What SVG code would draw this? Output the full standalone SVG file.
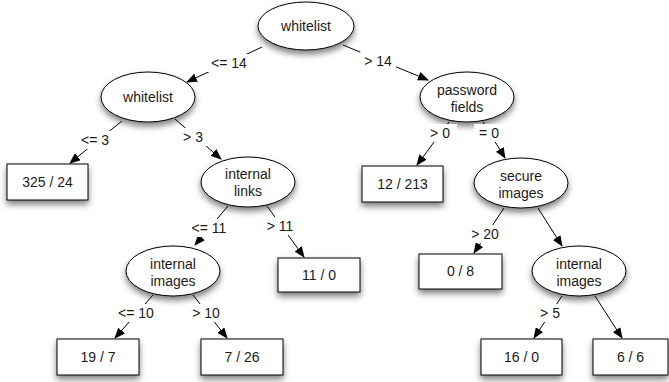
<svg xmlns="http://www.w3.org/2000/svg" width="669" height="382" viewBox="0 0 669 382">
<defs>
<filter id="sh" x="-25%" y="-25%" width="150%" height="180%">
<feDropShadow dx="0" dy="4" stdDeviation="3" flood-color="#000" flood-opacity="0.5"/>
</filter>
<marker id="ar" markerWidth="11" markerHeight="9" refX="10" refY="4.5" orient="auto" markerUnits="userSpaceOnUse">
<path d="M0,0 L11,4.5 L0,9 z" fill="#000"/>
</marker>
<style>
.n{fill:#fff;stroke:#000;stroke-width:1;filter:url(#sh)}
.t{font-family:"Liberation Sans",Arial,sans-serif;font-size:14px;fill:#1a1a1a;text-anchor:middle}
.e{stroke:#000;stroke-width:1;fill:none;marker-end:url(#ar)}
.lb{fill:#fff}
</style>
</defs>
<g id="connectors">
<line class="e" x1="262" y1="47" x2="187" y2="82"/>
<line class="e" x1="343" y1="45" x2="428" y2="80"/>
<line class="e" x1="122" y1="121" x2="70" y2="163"/>
<line class="e" x1="175" y1="119" x2="221" y2="159"/>
<line class="e" x1="449" y1="122" x2="417" y2="165"/>
<line class="e" x1="483" y1="122" x2="505" y2="158"/>
<line class="e" x1="228" y1="206" x2="195" y2="245"/>
<line class="e" x1="267" y1="206" x2="304" y2="257"/>
<line class="e" x1="153" y1="295" x2="115" y2="338"/>
<line class="e" x1="193" y1="295" x2="227" y2="338"/>
<line class="e" x1="504" y1="208" x2="474" y2="253"/>
<line class="e" x1="538" y1="208" x2="562" y2="246"/>
<line class="e" x1="562" y1="296" x2="534" y2="338"/>
<line class="e" x1="595" y1="296" x2="622" y2="338"/>
</g>
<g id="n-root"><ellipse class="n" cx="306" cy="26" rx="48" ry="24"/><text class="t" x="306" y="31">whitelist</text></g>
<g id="n-wl2"><ellipse class="n" cx="148" cy="97" rx="47" ry="25"/><text class="t" x="148" y="102">whitelist</text></g>
<g id="n-pw"><ellipse class="n" cx="467" cy="97" rx="47" ry="25"/><text class="t" x="467" y="95">password</text><text class="t" x="467" y="112">fields</text></g>
<g id="n-il"><ellipse class="n" cx="248" cy="182" rx="47" ry="25"/><text class="t" x="248" y="179">internal</text><text class="t" x="248" y="196">links</text></g>
<g id="n-si"><ellipse class="n" cx="521" cy="183" rx="47" ry="25"/><text class="t" x="521" y="181">secure</text><text class="t" x="521" y="198">images</text></g>
<g id="n-ii1"><ellipse class="n" cx="173" cy="271" rx="47" ry="25"/><text class="t" x="173" y="269">internal</text><text class="t" x="173" y="286">images</text></g>
<g id="n-ii2"><ellipse class="n" cx="579" cy="271" rx="47" ry="25"/><text class="t" x="579" y="269">internal</text><text class="t" x="579" y="286">images</text></g>
<g id="b-325"><rect class="n" x="7" y="164" width="81" height="36"/><text class="t" x="47.5" y="187">325 / 24</text></g>
<g id="b-12"><rect class="n" x="362" y="166" width="81" height="36"/><text class="t" x="402.5" y="189">12 / 213</text></g>
<g id="b-11"><rect class="n" x="278" y="258" width="82" height="34"/><text class="t" x="319" y="280">11 / 0</text></g>
<g id="b-08"><rect class="n" x="419" y="254" width="83" height="35"/><text class="t" x="460.5" y="276">0 / 8</text></g>
<g id="b-197"><rect class="n" x="57" y="339" width="82" height="36"/><text class="t" x="98" y="362">19 / 7</text></g>
<g id="b-726"><rect class="n" x="201" y="339" width="82" height="36"/><text class="t" x="242" y="362">7 / 26</text></g>
<g id="b-160"><rect class="n" x="481" y="339" width="81" height="36"/><text class="t" x="521.5" y="362">16 / 0</text></g>
<g id="b-66"><rect class="n" x="593" y="339" width="75" height="36"/><text class="t" x="630.5" y="362">6 / 6</text></g>
<g id="labels">
<rect class="lb" x="208" y="54" width="42" height="18"/><text class="t" x="229" y="68">&lt;= 14</text>
<rect class="lb" x="360" y="52" width="36" height="18"/><text class="t" x="378" y="66">&gt; 14</text>
<rect class="lb" x="78" y="131" width="34" height="18"/><text class="t" x="95" y="145">&lt;= 3</text>
<rect class="lb" x="179" y="128" width="28" height="18"/><text class="t" x="193" y="142">&gt; 3</text>
<rect class="lb" x="425" y="124" width="32" height="18"/><text class="t" x="440" y="138">&gt; 0</text>
<rect class="lb" x="474" y="124" width="32" height="18"/><text class="t" x="489" y="138">= 0</text>
<rect class="lb" x="188" y="219" width="42" height="18"/><text class="t" x="209" y="233">&lt;= 11</text>
<rect class="lb" x="262" y="217" width="36" height="18"/><text class="t" x="280" y="231">&gt; 11</text>
<rect class="lb" x="115" y="304" width="42" height="18"/><text class="t" x="136" y="318">&lt;= 10</text>
<rect class="lb" x="187" y="304" width="38" height="18"/><text class="t" x="206" y="318">&gt; 10</text>
<rect class="lb" x="467" y="225" width="36" height="18"/><text class="t" x="485" y="239">&gt; 20</text>
<rect class="lb" x="536" y="304" width="33" height="18"/><text class="t" x="550" y="318">&gt; 5</text>
</g>
</svg>
